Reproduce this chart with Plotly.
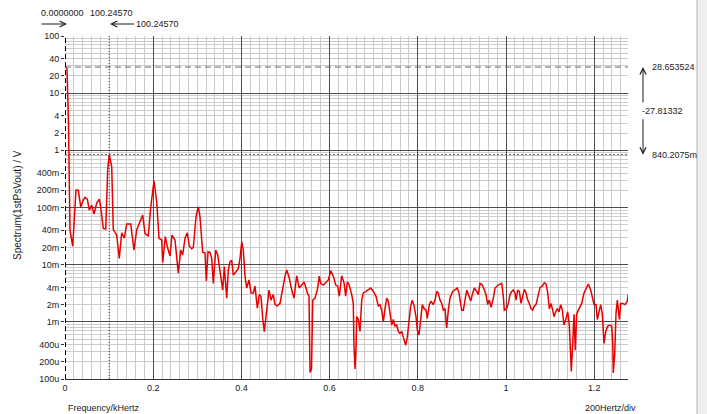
import math
import plotly.graph_objects as go

# Spectrum of 1stPsVout: frequency (kHz) and amplitude (V)
freq_khz = [
    0.0, 0.0045, 0.0079, 0.0113, 0.0175, 0.0249, 0.0302, 0.0356, 0.0415, 0.0454,
    0.0506, 0.0551, 0.0605, 0.0658, 0.0719, 0.0778, 0.0810, 0.0868, 0.0923, 0.0968,
    0.1002457, 0.1059, 0.1095, 0.1172, 0.1231, 0.1286, 0.1345, 0.1399, 0.1490, 0.1565,
    0.1626, 0.1701, 0.1762, 0.1814, 0.1889, 0.1943, 0.2018, 0.2079, 0.2132, 0.2193,
    0.2215, 0.2274, 0.2320, 0.2381, 0.2426, 0.2494, 0.2569, 0.2624, 0.2669, 0.2721,
    0.2773, 0.2819, 0.2873, 0.2909, 0.2971, 0.3023, 0.3061, 0.3122, 0.3175, 0.3204,
    0.3243, 0.3288, 0.3327, 0.3363, 0.3417, 0.3463, 0.3515, 0.3576, 0.3612, 0.3667,
    0.3703, 0.3741, 0.3780, 0.3816, 0.3878, 0.3930, 0.3968, 0.4007, 0.4043, 0.4082,
    0.4120, 0.4172, 0.4218, 0.4270, 0.4308, 0.4361, 0.4406, 0.4444, 0.4483, 0.4519,
    0.4574, 0.4626, 0.4671, 0.4723, 0.4762, 0.4814, 0.4875, 0.4937, 0.4989, 0.5027,
    0.5086, 0.5141, 0.5193, 0.5254, 0.5313, 0.5367, 0.5420, 0.5465, 0.5494, 0.5533,
    0.5556, 0.5590, 0.5617, 0.5669, 0.5721, 0.5766, 0.5798, 0.5857, 0.5918, 0.5971,
    0.6025, 0.6084, 0.6138, 0.6184, 0.6220, 0.6274, 0.6327, 0.6365, 0.6401, 0.6440,
    0.6501, 0.6537, 0.6553, 0.6576, 0.6599, 0.6615, 0.6651, 0.6689, 0.6728, 0.6764,
    0.6825, 0.6878, 0.6932, 0.6991, 0.7052, 0.7104, 0.7143, 0.7181, 0.7218, 0.7256,
    0.7295, 0.7331, 0.7370, 0.7408, 0.7444, 0.7483, 0.7522, 0.7558, 0.7596, 0.7635,
    0.7671, 0.7726, 0.7762, 0.7800, 0.7839, 0.7875, 0.7914, 0.7959, 0.7989, 0.8027,
    0.8066, 0.8102, 0.8141, 0.8186, 0.8215, 0.8261, 0.8299, 0.8351, 0.8390, 0.8429,
    0.8465, 0.8503, 0.8542, 0.8578, 0.8617, 0.8655, 0.8692, 0.8730, 0.8791, 0.8844,
    0.8896, 0.8934, 0.8973, 0.8995, 0.9032, 0.9070, 0.9109, 0.9161, 0.9200, 0.9236,
    0.9281, 0.9336, 0.9372, 0.9410, 0.9463, 0.9508, 0.9546, 0.9585, 0.9621, 0.9660,
    0.9712, 0.9751, 0.9825, 0.9902, 0.9939, 0.9961, 1.0016, 1.0052, 1.0091, 1.0129,
    1.0166, 1.0204, 1.0227, 1.0265, 1.0302, 1.0340, 1.0379, 1.0415, 1.0454, 1.0492,
    1.0528, 1.0567, 1.0605, 1.0642, 1.0680, 1.0732, 1.0771, 1.0823, 1.0868, 1.0907,
    1.0946, 1.0982, 1.1020, 1.1059, 1.1088, 1.1127, 1.1163, 1.1202, 1.1240, 1.1277,
    1.1315, 1.1361, 1.1399, 1.1435, 1.1467, 1.1481, 1.1512, 1.1542, 1.1571, 1.1603,
    1.1639, 1.1678, 1.1717, 1.1769, 1.1814, 1.1866, 1.1921, 1.1966, 1.1995, 1.2041,
    1.2070, 1.2109, 1.2147, 1.2184, 1.2222, 1.2261, 1.2306, 1.2358, 1.2397, 1.2420,
    1.2433, 1.2465, 1.2494, 1.2524, 1.2570, 1.2601, 1.2646, 1.2698, 1.2751, 1.2770,
]
spectrum_v = [
    28.653524, 27.0, 3.0, 0.040, 0.021, 0.202, 0.20, 0.103, 0.135, 0.15,
    0.14, 0.09, 0.11, 0.077, 0.12, 0.14, 0.10, 0.043, 0.042, 0.45,
    0.8402075, 0.52, 0.041, 0.033, 0.0129, 0.036, 0.029, 0.0515, 0.0515, 0.018,
    0.041, 0.0565, 0.074, 0.035, 0.032, 0.10, 0.294, 0.126, 0.029, 0.027,
    0.0108, 0.031, 0.0206, 0.0142, 0.033, 0.027, 0.0071, 0.018, 0.0148, 0.029,
    0.036, 0.021, 0.019, 0.020, 0.069, 0.103, 0.069, 0.0165, 0.016, 0.0052,
    0.0169, 0.0163, 0.0128, 0.0047, 0.018, 0.0148, 0.0081, 0.0036, 0.0093, 0.0026,
    0.0081, 0.0113, 0.0119, 0.0066, 0.0075, 0.0086, 0.0128, 0.0252, 0.018, 0.0063,
    0.0039, 0.0054, 0.0032, 0.0032, 0.0042, 0.00173, 0.0030, 0.0028, 0.00115, 0.00067,
    0.0016, 0.0036, 0.0024, 0.0030, 0.0020, 0.0019, 0.0021, 0.0042, 0.0063, 0.0081,
    0.0058, 0.0036, 0.0026, 0.0064, 0.0039, 0.0044, 0.0050, 0.0039, 0.0032, 0.0028,
    0.00013, 0.00015, 0.0024, 0.0026, 0.0036, 0.0063, 0.0047, 0.0044, 0.0050, 0.0054,
    0.0078, 0.0063, 0.0044, 0.0042, 0.0028, 0.0064, 0.0048, 0.0028, 0.0050, 0.0045,
    0.0030, 0.0021, 0.00037, 0.00015, 0.00037, 0.00123, 0.0011, 0.00068, 0.0024, 0.0032,
    0.0034, 0.0036, 0.0039, 0.0034, 0.0028, 0.0019, 0.0020, 0.0016, 0.00101, 0.0017,
    0.0026, 0.0023, 0.00141, 0.00088, 0.0011, 0.00084, 0.00088, 0.00068, 0.00063, 0.00068,
    0.00054, 0.00039, 0.00054, 0.0011, 0.0019, 0.0024, 0.0019, 0.00123, 0.00072, 0.00059,
    0.0011, 0.0020, 0.0017, 0.0016, 0.00115, 0.0020, 0.0023, 0.0020, 0.0024, 0.0034,
    0.0032, 0.0024, 0.0021, 0.0016, 0.0017, 0.00078, 0.0016, 0.0026, 0.0034, 0.0036,
    0.0039, 0.0032, 0.0020, 0.0016, 0.0016, 0.0023, 0.0036, 0.0028, 0.0023, 0.0030,
    0.0039, 0.0034, 0.0030, 0.0047, 0.0044, 0.0036, 0.0030, 0.0020, 0.0024, 0.0018,
    0.0026, 0.0039, 0.0044, 0.0047, 0.0028, 0.0016, 0.0017, 0.0021, 0.0030, 0.0034,
    0.0036, 0.0032, 0.0024, 0.0036, 0.0034, 0.0021, 0.0028, 0.0037, 0.0032, 0.0024,
    0.0021, 0.0017, 0.0016, 0.0019, 0.0020, 0.0030, 0.0040, 0.0042, 0.0048, 0.0046,
    0.0032, 0.0017, 0.0021, 0.0016, 0.00123, 0.0015, 0.0017, 0.0015, 0.0020, 0.0016,
    0.00088, 0.00115, 0.0015, 0.00088, 0.00026, 0.000136, 0.00042, 0.00135, 0.00032, 0.00135,
    0.0016, 0.0019, 0.0021, 0.0032, 0.0039, 0.0046, 0.0036, 0.0024, 0.0020, 0.0020,
    0.0011, 0.0015, 0.0020, 0.00135, 0.00042, 0.00068, 0.00084, 0.00088, 0.00084, 0.00042,
    0.000128, 0.00028, 0.00141, 0.0024, 0.0011, 0.0021, 0.0021, 0.0020, 0.0023, 0.0030,
]
assert len(freq_khz) == len(spectrum_v)

# Cursor readings: (frequency kHz, amplitude V)
cursor_a = (0.0, 28.653524)
cursor_b = (0.1002457, 0.8402075)

x_max_khz = 1.2766
y_tick_vals = [100, 40, 20, 10, 4, 2, 1, 0.4, 0.2, 0.1, 0.04, 0.02, 0.01,
               0.004, 0.002, 0.001, 0.0004, 0.0002, 0.0001]
y_tick_text = ["100", "40", "20", "10", "4", "2", "1", "400m", "200m", "100m",
               "40m", "20m", "10m", "4m", "2m", "1m", "400u", "200u", "100u"]
decade_vals = [10.0 ** e for e in range(-4, 3)]
minor_vals = [m * 10.0 ** e for e in range(-4, 2) for m in range(2, 10)]

FONT = "Liberation Sans, Arial, sans-serif"
TXT = "#1a1a1a"
MAJOR = "#4d4d4d"
MINOR = "#cbcbcb"

fig = go.Figure()

fig.add_trace(go.Scatter(
    x=freq_khz, y=spectrum_v, mode="lines",
    line=dict(color="#e80000", width=1.5), yaxis="y", hoverinfo="skip",
))

# Cursor lines
fig.add_trace(go.Scatter(
    x=[0, x_max_khz], y=[cursor_a[1], cursor_a[1]], mode="lines",
    line=dict(color="#6a6a6a", width=1, dash="6px,4px"), yaxis="y2", hoverinfo="skip",
))
fig.add_trace(go.Scatter(
    x=[0, x_max_khz], y=[cursor_b[1], cursor_b[1]], mode="lines",
    line=dict(color="#555555", width=1, dash="2px,2px"), yaxis="y2", hoverinfo="skip",
))
fig.add_trace(go.Scatter(
    x=[cursor_a[0], cursor_a[0]], y=[1e-4, 1e2], mode="lines",
    line=dict(color="#000000", width=2, dash="5px,3px"), yaxis="y2", hoverinfo="skip",
))
fig.add_trace(go.Scatter(
    x=[cursor_b[0], cursor_b[0]], y=[1e-4, 1e2], mode="lines",
    line=dict(color="#333333", width=1, dash="1px,2px"), yaxis="y2", hoverinfo="skip",
))

L, R, T, B = 65, 79, 36, 35
W, H = 707, 414
PW, PH = W - L - R, H - T - B


def px(x):
    return (x - L) / PW


def py(y):
    return (H - B - y) / PH


font = dict(family=FONT, size=9, color=TXT)
annotations = []

# Cursor frequency readouts above the plot
annotations.append(dict(text=f"{cursor_a[0] * 1000:.7f}", x=px(39), y=py(13),
                        xref="paper", yref="paper", xanchor="left", yanchor="middle",
                        showarrow=False, font=font))
annotations.append(dict(text=f"{cursor_b[0] * 1000:.5f}", x=px(88), y=py(13),
                        xref="paper", yref="paper", xanchor="left", yanchor="middle",
                        showarrow=False, font=font))
annotations.append(dict(text="", x=px(67), y=py(24), xref="paper", yref="paper",
                        ax=-27, ay=0, showarrow=True, arrowhead=5, arrowsize=1.2,
                        arrowwidth=1, arrowcolor=TXT))
annotations.append(dict(text=f"{cursor_b[0] * 1000:.5f}", x=px(110), y=py(24),
                        xref="paper", yref="paper", ax=47, ay=0, showarrow=True,
                        arrowhead=5, arrowsize=1.2, arrowwidth=1, arrowcolor=TXT,
                        font=font))

# Cursor amplitude readouts on the right
la, lb = math.log10(cursor_a[1]), math.log10(cursor_b[1])
annotations.append(dict(text=f"{cursor_a[1]:.6f}", x=px(650), y=la, xref="paper", yref="y",
                        xanchor="left", yanchor="middle", showarrow=False, font=font))
annotations.append(dict(text=f"{cursor_b[1] * 1000:.4f}m", x=px(650), y=lb, xref="paper",
                        yref="y", xanchor="left", yanchor="middle", showarrow=False, font=font))
annotations.append(dict(text=f"{cursor_b[1] - cursor_a[1]:.5f}", x=px(640), y=(la + lb) / 2,
                        xref="paper", yref="y", xanchor="left", yanchor="middle",
                        showarrow=False, font=font))
annotations.append(dict(text="", x=px(643), y=la, xref="paper", yref="y", ax=0, ay=37,
                        showarrow=True, arrowhead=5, arrowsize=1.2, arrowwidth=1,
                        arrowcolor=TXT))
annotations.append(dict(text="", x=px(643), y=lb, xref="paper", yref="y", ax=0, ay=-37,
                        showarrow=True, arrowhead=5, arrowsize=1.2, arrowwidth=1,
                        arrowcolor=TXT))

# Axis captions
annotations.append(dict(text="Spectrum(1stPsVout) / V", x=px(17), y=py(205),
                        xref="paper", yref="paper", textangle=-90, showarrow=False,
                        xanchor="center", yanchor="middle", font=dict(family=FONT, size=10, color=TXT)))
annotations.append(dict(text="Frequency/kHertz", x=px(66), y=py(408), xref="paper",
                        yref="paper", xanchor="left", yanchor="middle", showarrow=False,
                        font=font))
annotations.append(dict(text="200Hertz/div", x=px(638), y=py(408), xref="paper",
                        yref="paper", xanchor="right", yanchor="middle", showarrow=False,
                        font=font))

fig.update_layout(
    width=W, height=H, autosize=False,
    margin=dict(l=L, r=R, t=T, b=B, pad=0),
    paper_bgcolor="white", plot_bgcolor="white",
    showlegend=False,
    font=dict(family=FONT, size=9, color=TXT),
    xaxis=dict(
        range=[0, x_max_khz], tick0=0, dtick=0.2, showgrid=True, gridcolor=MAJOR,
        gridwidth=1, zeroline=False, showline=True, linecolor="#333333", linewidth=1,
        ticks="", tickfont=dict(family=FONT, size=9, color=TXT),
        minor=dict(tick0=0, dtick=0.02, showgrid=True, gridcolor=MINOR, gridwidth=1),
    ),
    yaxis=dict(
        type="log", range=[-4, 2], tickmode="array", tickvals=decade_vals,
        showticklabels=False, ticks="", showgrid=True, gridcolor=MAJOR, gridwidth=1,
        zeroline=False, showline=False,
        minor=dict(tickmode="array", tickvals=minor_vals, showgrid=True,
                   gridcolor=MINOR, gridwidth=1),
    ),
    yaxis2=dict(
        type="log", range=[-4, 2], overlaying="y", side="left", anchor="x",
        tickmode="array", tickvals=y_tick_vals, ticktext=y_tick_text,
        ticks="outside", ticklen=3, tickcolor="#333333", showgrid=False,
        zeroline=False, showline=False, tickfont=dict(family=FONT, size=9, color=TXT),
    ),
    annotations=annotations,
    shapes=[dict(type="rect", xref="paper", yref="paper", x0=px(697), x1=px(708),
                 y0=py(415), y1=py(-1), fillcolor="#efefef",
                 line=dict(color="#b4b4b4", width=1), layer="below")],
)

fig.write_html("out.html")
